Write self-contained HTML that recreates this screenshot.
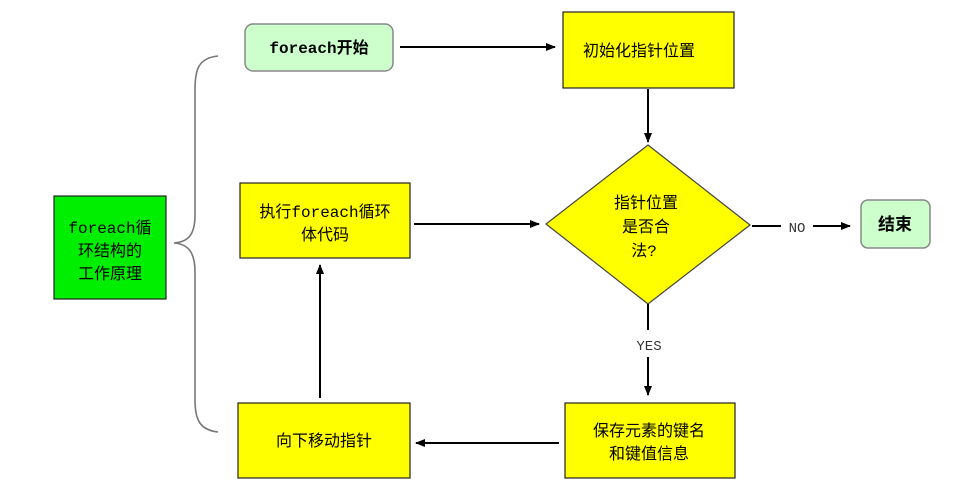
<!DOCTYPE html>
<html><head><meta charset="utf-8"><style>
html,body{margin:0;padding:0;background:#fff;}
svg text{font-family:"Liberation Mono","Noto Sans CJK SC",monospace;}
</style></head><body>
<svg width="968" height="494" viewBox="0 0 968 494" xmlns="http://www.w3.org/2000/svg">
<defs><marker id="a" markerWidth="10" markerHeight="10" refX="9" refY="5" orient="auto" markerUnits="userSpaceOnUse"><path d="M0,1 L10,5 L0,9 Z" fill="#000"/></marker></defs>
<path d="M218,56 C198,58 195,70 195,90 L195,215 C195,235 188,242 174,243 C188,244 195,252 195,272 L195,400 C195,420 200,430 218,432" fill="none" stroke="#777" stroke-width="1.6"/>
<rect x="54" y="196" width="112" height="103" fill="#00ee00" stroke="#222" stroke-width="1.2"/>
<text font-size="16" text-anchor="middle" fill="#000"><tspan x="110" y="233">foreach循</tspan><tspan x="110" y="256">环结构的</tspan><tspan x="110" y="279">工作原理</tspan></text>
<rect x="245" y="24" width="148" height="47" rx="8" fill="#ccffcc" stroke="#888" stroke-width="1.5"/>
<text x="319" y="53" font-size="16" font-weight="bold" text-anchor="middle">foreach开始</text>
<rect x="563" y="12" width="171" height="76" fill="#ffff00" stroke="#222" stroke-width="1.2"/>
<text x="639" y="56" font-size="16" text-anchor="middle">初始化指针位置</text>
<polygon points="648,145 750,225 648,304 546,224" fill="#ffff00" stroke="#444" stroke-width="1.2"/>
<text font-size="16" text-anchor="middle"><tspan x="646" y="208">指针位置</tspan><tspan x="646" y="232">是否合</tspan><tspan x="644" y="256">法?</tspan></text>
<rect x="861" y="200" width="69" height="48" rx="7" fill="#ccffcc" stroke="#888" stroke-width="1.5"/>
<text x="895" y="230" font-size="17" font-weight="bold" text-anchor="middle">结束</text>
<rect x="240" y="183" width="170" height="75" fill="#ffff00" stroke="#222" stroke-width="1.2"/>
<text font-size="16" text-anchor="middle"><tspan x="325" y="217">执行foreach循环</tspan><tspan x="325" y="240">体代码</tspan></text>
<rect x="238" y="403" width="172" height="75" fill="#ffff00" stroke="#222" stroke-width="1.2"/>
<text x="324" y="446" font-size="16" text-anchor="middle">向下移动指针</text>
<rect x="565" y="403" width="170" height="75" fill="#ffff00" stroke="#222" stroke-width="1.2"/>
<text font-size="16" text-anchor="middle"><tspan x="649" y="436">保存元素的键名</tspan><tspan x="649" y="459">和键值信息</tspan></text>
<g stroke="#000" stroke-width="2" fill="none">
<line x1="400" y1="47" x2="555" y2="47" marker-end="url(#a)"/>
<line x1="648" y1="89" x2="648" y2="142" marker-end="url(#a)"/>
<line x1="414" y1="224" x2="539" y2="224" marker-end="url(#a)"/>
<line x1="752" y1="226" x2="781" y2="226"/>
<line x1="813" y1="226" x2="850" y2="226" marker-end="url(#a)"/>
<line x1="648" y1="304" x2="648" y2="330"/>
<line x1="648" y1="357" x2="648" y2="395" marker-end="url(#a)"/>
<line x1="559" y1="443" x2="416" y2="443" marker-end="url(#a)"/>
<line x1="320" y1="398" x2="320" y2="265" marker-end="url(#a)"/>
</g>
<text x="797" y="232" font-size="14" text-anchor="middle" fill="#333" font-family="Liberation Serif,serif">NO</text>
<text x="649" y="350" font-size="14" text-anchor="middle" fill="#333" font-family="Liberation Serif,serif">YES</text>
</svg>
</body></html>
